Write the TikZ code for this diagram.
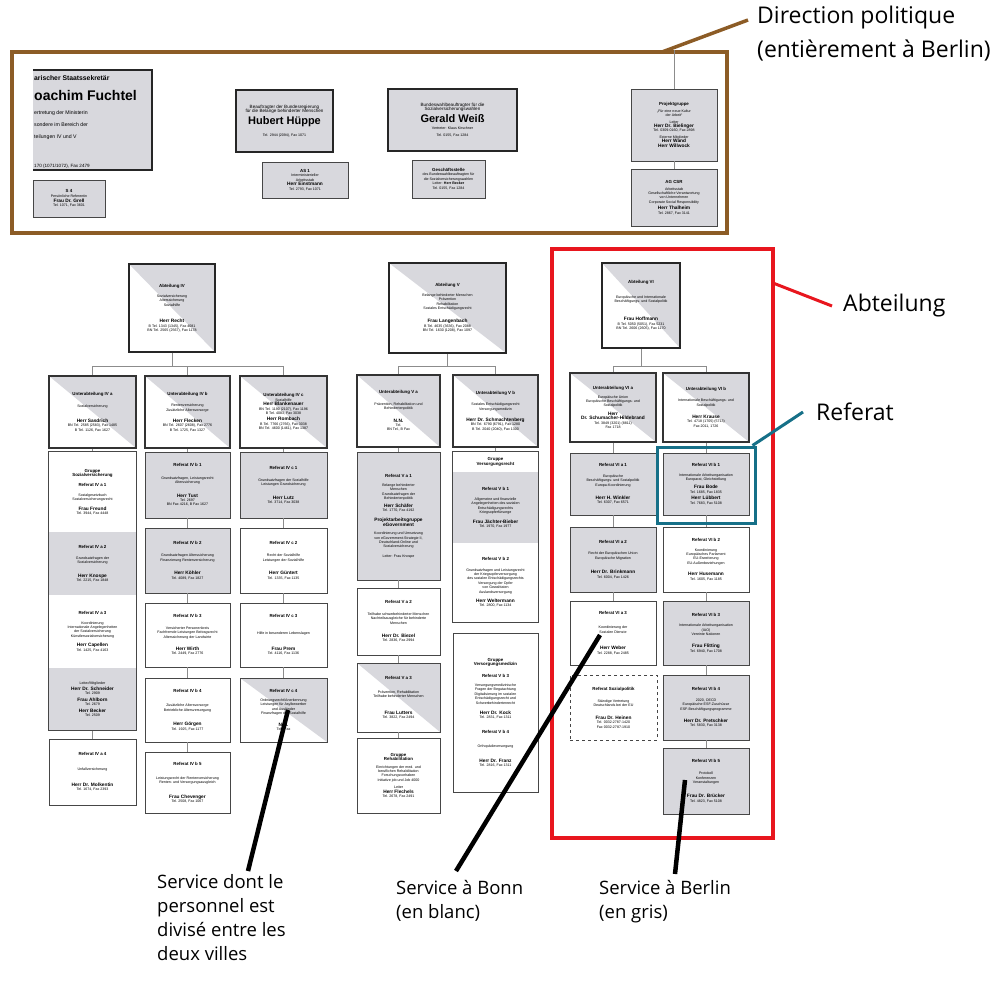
\documentclass[tikz,border=0pt]{standalone}
\usepackage{fontspec}
\setmainfont{Liberation Sans}
\newfontfamily\notefont{Open Sans}
\usetikzlibrary{fit}

\definecolor{framebrown}{RGB}{140,92,38}
\definecolor{framered}{RGB}{232,22,30}
\definecolor{frameteal}{RGB}{22,112,136}
\definecolor{boxgray}{RGB}{216,216,221}
\definecolor{boxline}{RGB}{70,70,70}

\tikzset{
  org/.style={draw=boxline, line width=0.8pt, fill=white, align=center, inner sep=1pt,
    font=\fontsize{3.6}{4.4}\selectfont},
  grey/.style={fill=boxgray},
  split/.style={path picture={\fill[boxgray] (path picture bounding box.north west)
    -- (path picture bounding box.north east) -- (path picture bounding box.south east) -- cycle;}},
  heavy/.style={draw=black!85, line width=1.8pt},
  sub/.style={draw=black!80, line width=1.3pt},
  sect/.style={draw=none},
  link/.style={draw=black!45, line width=0.6pt},
  pointer/.style={line width=4.5pt},
  note/.style={font=\notefont\fontsize{18.5}{24}\selectfont, align=left, inner sep=0pt}
}

% box from (x1,y1) to (x2,y2), y counted downwards
\newcommand\obox[7][]{\node[org,#1,minimum width={#5-#3},minimum height={#6-#4}] (#2)
  at ({(#3+#5)/2},{(#4+#6)/2}) {#7};}
\newcommand\hd[1]{{\fontsize{4.4}{5}\selectfont\bfseries #1}}
\newcommand\nm[1]{{\fontsize{4.8}{5.4}\selectfont\bfseries #1}}

\begin{document}
\begin{tikzpicture}[x=1pt,y=-1pt]
\useasboundingbox (0,0) rectangle (996,988);

% frames
\node[draw=framebrown, line width=4pt, minimum width=715, minimum height=181, inner sep=0pt] (polframe) at (369.5,142.5) {};
\node[draw=framered, line width=3.5pt, minimum width=221, minimum height=589, inner sep=0pt] (abtframe) at (662.5,543.5) {};

% Leitung
\node[fill=boxgray, minimum width=119, minimum height=100, inner sep=0pt] (pst) at (92.5,120) {};
\draw[heavy] (pst.north west) -- (pst.north east) -- (pst.south east) -- (pst.south west);
\node[anchor=north west, align=left, inner sep=0pt] (psttxt) at (34,75)
  {{\fontsize{6.8}{7}\selectfont\bfseries arischer Staatssekretär}\\[8pt]
   {\fontsize{14}{14}\selectfont\bfseries oachim Fuchtel}\\[2pt]
   {\fontsize{5.2}{6.6}\selectfont ertretung der Ministerin}\\
   {\fontsize{5.2}{6.6}\selectfont sondere im Bereich der}\\
   {\fontsize{5.2}{6.6}\selectfont teilungen IV und V}\\[17pt]
   {\fontsize{4.6}{5}\selectfont 170 (1071/1072), Fax 2479}};
\obox[grey]{s4}{33}{180}{105}{217}{\hd{S 4}\\ Persönliche Referentin\\[1pt] \nm{Frau Dr. Grell}\\ Tel. 1071, Fax 3601}
\obox[heavy,grey]{hueppe}{236}{90}{333}{152}{{\fontsize{4.6}{5.4}\selectfont Beauftragter der Bundesregierung}\\
  {\fontsize{4.6}{5.4}\selectfont für die Belange behinderter Menschen}\\[2pt]
  {\fontsize{11}{12}\selectfont\bfseries Hubert Hüppe}\\[6pt] Tel. 2944 (2094), Fax 1071}
\obox[grey]{as1}{262}{162}{348}{198}{\hd{AS 1}\\ Interministerieller\\ Arbeitsstab\\ \nm{Herr Einstmann}\\ Tel. 2793, Fax 1071}
\obox[heavy,grey]{weiss}{388}{89}{517}{151}{{\fontsize{4.6}{5.4}\selectfont Bundeswahlbeauftragter für die}\\
  {\fontsize{4.6}{5.4}\selectfont Sozialversicherungswahlen}\\[2pt]
  {\fontsize{11}{12}\selectfont\bfseries Gerald Weiß}\\[2pt] Vertreter: Klaus Kirschner\\[3pt] Tel. 0155, Fax 1284}
\obox[grey]{gst}{412}{160}{485}{198}{\hd{Geschäftsstelle}\\ des Bundeswahlbeauftragten für\\ die Sozialversicherungswahlen\\ Leiter: \textbf{Herr Becker}\\ Tel. 0155, Fax 1284}
\obox[grey]{projgr}{631}{89}{717}{161}{\hd{Projektgruppe}\\[2pt] „Für eine neue Kultur\\ der Arbeit“\\[2pt] Leiter\\ \nm{Herr Dr. Bielinger}\\ Tel. 0309-0160, Fax 2898\\[2pt] Externe Mitglieder\\ \nm{Herr Wand}\\ \nm{Herr Willwock}}
\obox[grey]{agcsr}{631}{169}{717}{226}{\hd{AG CSR}\\[2pt] Arbeitsstab\\ Gesellschaftliche Verantwortung\\ von Unternehmen\\ Corporate Social Responsibility\\[2pt] \nm{Herr Thalheim}\\ Tel. 2867, Fax 3141}
\draw[link] (projgr.north) -- (projgr.north |- polframe.north);
\draw[link] (projgr) -- (agcsr);

% Abteilung IV
\obox[heavy,split]{abt4}{129}{264}{215}{352}{\hd{Abteilung IV}\\[6pt] Sozialversicherung\\ Alterssicherung\\ Sozialhilfe\\[12pt] \nm{Herr Recht}\\ B Tel. 1343 (1345), Fax 4081\\ BN Tel. 2565 (2567), Fax 1178}
\obox[sub,split]{uaIVa}{49}{376}{136}{448}{\hd{Unterabteilung IV a}\\[8pt] Sozialversicherung\\[10pt] \nm{Herr Sasdrich}\\ BN Tel. 2585 (2583), Fax 1485\\ B Tel. 1126, Fax 1627}
\obox[sub,split]{uaIVb}{145}{376}{230}{448}{\hd{Unterabteilung IV b}\\[7pt] Rentenversicherung\\ Zusätzliche Altersvorsorge\\[7pt] \nm{Herr Flecken}\\ BN Tel. 2607 (2608), Fax 2776\\ B Tel. 1725, Fax 1327}
\obox[sub,split]{uaIVc}{240}{376}{327}{448}{\hd{Unterabteilung IV c}\\ Sozialhilfe\\ \nm{Herr Blankenauer}\\ BN Tel. 1190 (2107), Fax 1196\\ B Tel. 4083, Fax 3038\\[2pt] \nm{Herr Rombach}\\ B Tel. 7766 (2766), Fax 3038\\ BN Tel. 4600 (1461), Fax 1387}

\obox[sect]{gIVa1}{49}{452}{136}{532}{\hd{Gruppe}\\ \hd{Sozialversicherung}\\[6pt] \hd{Referat IV a 1}\\[5pt] Sozialgesetzbuch\\ Sozialversicherungsrecht\\[5pt] \nm{Frau Freund}\\ Tel. 3944, Fax 4448}
\obox[sect,grey]{gIVa2}{49}{532}{136}{595}{\hd{Referat IV a 2}\\[7pt] Grundsatzfragen der\\ Sozialversicherung\\[9pt] \nm{Herr Knospe}\\ Tel. 2215, Fax 1848}
\obox[sect]{gIVa3}{49}{595}{136}{668}{\hd{Referat IV a 3}\\[5pt] Koordinierung\\ Internationale Angelegenheiten\\ der Sozialversicherung\\ Künstlersozialversicherung\\[5pt] \nm{Herr Capellen}\\ Tel. 1425, Fax 4163}
\obox[sect,grey]{gIVa4}{49}{668}{136}{730}{Leiter/Mitglieder\\[2pt] \nm{Herr Dr. Schneider}\\ Tel. 2909\\[2pt] \nm{Frau Ahlborn}\\ Tel. 2679\\[2pt] \nm{Herr Becker}\\ Tel. 2509}
\node[org, fill=none, fit=(gIVa1)(gIVa4), inner sep=0pt] (grIVa) {};
\obox{r4a4}{49}{739}{136}{805}{\hd{Referat IV a 4}\\[10pt] Unfallversicherung\\[12pt] \nm{Herr Dr. Molkentin}\\ Tel. 1674, Fax 2393}

\obox[grey]{r4b1}{145}{452}{230}{518}{\hd{Referat IV b 1}\\[8pt] Grundsatzfragen, Leistungsrecht\\ Alterssicherung\\[9pt] \nm{Herr Tust}\\ Tel. 2697\\ BN Fax 4216, B Fax 1627}
\obox[grey]{r4b2}{145}{528}{230}{593}{\hd{Referat IV b 2}\\[8pt] Grundsatzfragen Alterssicherung\\ Finanzierung Rentenversicherung\\[9pt] \nm{Herr Köhler}\\ Tel. 4089, Fax 1827}
\obox{r4b3}{145}{603}{230}{667}{\hd{Referat IV b 3}\\[7pt] Versicherter Personenkreis\\ Fachfremde Leistungen Beitragsrecht\\ Alterssicherung der Landwirte\\[8pt] \nm{Herr Wirth}\\ Tel. 2449, Fax 2776}
\obox{r4b4}{145}{678}{230}{742}{\hd{Referat IV b 4}\\[10pt] Zusätzliche Altersvorsorge\\ Betriebliche Altersversorgung\\[10pt] \nm{Herr Görgen}\\ Tel. 1925, Fax 1177}
\obox{r4b5}{145}{752}{230}{813}{\hd{Referat IV b 5}\\[10pt] Leistungsrecht der Rentenversicherung\\ Renten- und Versorgungsausgleich\\[10pt] \nm{Frau Chevenger}\\ Tel. 2508, Fax 1067}

\obox[grey]{r4c1}{240}{452}{327}{518}{\hd{Referat IV c 1}\\[8pt] Grundsatzfragen der Sozialhilfe\\ Leistungen Grundsicherung\\[9pt] \nm{Herr Lutz}\\ Tel. 3714, Fax 3038}
\obox{r4c2}{240}{528}{327}{593}{\hd{Referat IV c 2}\\[8pt] Recht der Sozialhilfe\\ Leistungen der Sozialhilfe\\[9pt] \nm{Herr Güntert}\\ Tel. 1335, Fax 1135}
\obox{r4c3}{240}{603}{327}{667}{\hd{Referat IV c 3}\\[12pt] Hilfe in besonderen Lebenslagen\\[12pt] \nm{Frau Prem}\\ Tel. 4116, Fax 1136}
\obox[split]{r4c4}{240}{678}{327}{742}{\hd{Referat IV c 4}\\[5pt] Ordnungsrecht/Anerkennung\\ Leistungen für Asylbewerber\\ und Ausländer\\ Finanzfragen der Sozialhilfe\\[7pt] \nm{N.N.}\\ Tel., Fax}

\draw[link] (abt4.south) -- ++(0,13) -| (uaIVa.north);
\draw[link] (abt4.south) -- ++(0,13) -| (uaIVb.north);
\draw[link] (abt4.south) -- ++(0,13) -| (uaIVc.north);
\draw[link] (uaIVa) -- (grIVa);
\draw[link] (grIVa) -- (r4a4);
\draw[link] (uaIVb) -- (r4b1);
\draw[link] (r4b1) -- (r4b2);
\draw[link] (r4b2) -- (r4b3);
\draw[link] (r4b3) -- (r4b4);
\draw[link] (r4b4) -- (r4b5);
\draw[link] (uaIVc) -- (r4c1);
\draw[link] (r4c1) -- (r4c2);
\draw[link] (r4c2) -- (r4c3);
\draw[link] (r4c3) -- (r4c4);

% Abteilung V
\obox[heavy,split]{abt5}{389}{263}{506}{353}{\hd{Abteilung V}\\[5pt] Belange behinderter Menschen\\ Prävention\\ Rehabilitation\\ Soziales Entschädigungsrecht\\[9pt] \nm{Frau Langenbach}\\ B Tel. 4635 (3636), Fax 2088\\ BN Tel. 1630 (1208), Fax 1097}
\obox[sub,split]{uaVa}{357}{375}{440}{447}{\hd{Unterabteilung V a}\\[7pt] Prävention, Rehabilitation und\\ Behindertenpolitik\\[8pt] \nm{N.N.}\\ Tel.\\ BN Tel., B Fax}
\obox[sub,split]{uaVb}{453}{375}{538}{447}{\hd{Unterabteilung V b}\\[7pt] Soziales Entschädigungsrecht\\ Versorgungsmedizin\\[7pt] \nm{Herr Dr. Schmachtenberg}\\ BN Tel. 6790 (6791), Fax 1280\\ B Tel. 2040 (2040), Fax 1300}

\obox[grey]{r5a1}{357}{452}{440}{580}{\hd{Referat V a 1}\\[5pt] Belange behinderter\\ Menschen\\ Grundsatzfragen der\\ Behindertenpolitik\\[3pt] \nm{Herr Schäfer}\\ Tel. 1770, Fax 4192\\[6pt] \nm{Projektarbeitsgruppe}\\ \nm{eGovernment}\\[4pt] Koordinierung und Umsetzung\\ von eGovernment-Strategie II,\\ Deutschland-Online und\\ Sozialversicherung\\[5pt] Leiter: Frau Knospe}
\obox{r5a2}{357}{588}{440}{655}{\hd{Referat V a 2}\\[7pt] Teilhabe schwerbehinderter Menschen\\ Nachteilsausgleiche für behinderte\\ Menschen\\[9pt] \nm{Herr Dr. Biezel}\\ Tel. 2836, Fax 2994}
\obox[split]{r5a3}{357}{663}{440}{732}{\hd{Referat V a 3}\\[10pt] Prävention, Rehabilitation\\ Teilhabe behinderter Menschen\\[12pt] \nm{Frau Lutters}\\ Tel. 3822, Fax 2494}
\obox{grReha}{357}{738}{440}{813}{\hd{Gruppe}\\ \hd{Rehabilitation}\\[3pt] Einrichtungen der med. und\\ beruflichen Rehabilitation\\ Forschungsvorhaben\\ Initiative job und Job 4000\\[3pt] Leiter\\ \nm{Herr Flechels}\\ Tel. 2678, Fax 2491}

\obox[sect]{gVr1}{453}{452}{538}{472}{\hd{Gruppe}\\ \hd{Versorgungsrecht}}
\obox[sect,grey]{gVr2}{453}{472}{538}{543}{\hd{Referat V b 1}\\[6pt] Allgemeine und finanzielle\\ Angelegenheiten des sozialen\\ Entschädigungsrechts\\ Kriegsopferfürsorge\\[5pt] \nm{Frau Jächter-Bieber}\\ Tel. 1970, Fax 1977}
\obox[sect]{gVr3}{453}{543}{538}{622}{\hd{Referat V b 2}\\[6pt] Grundsatzfragen und Leistungsrecht\\ der Kriegsopferversorgung\\ des sozialen Entschädigungsrechts\\ Versorgung der Opfer\\ von Gewalttaten\\ Auslandsversorgung\\[5pt] \nm{Herr Weltermann}\\ Tel. 2800, Fax 1134}
\node[org, fill=none, fit=(gVr1)(gVr3), inner sep=0pt] (grVr) {};
\obox{grVm}{453}{633}{538}{792}{\hd{Gruppe}\\ \hd{Versorgungsmedizin}\\[7pt] \hd{Referat V b 3}\\[5pt] Versorgungsmedizinische\\ Fragen der Begutachtung\\ Digitalisierung im sozialen\\ Entschädigungsrecht und\\ Schwerbehindertenrecht\\[6pt] \nm{Herr Dr. Kock}\\ Tel. 2831, Fax 1311\\[10pt] \hd{Referat V b 4}\\[10pt] Orthopädieversorgung\\[10pt] \nm{Herr Dr. Franz}\\ Tel. 2816, Fax 1311}

\draw[link] (abt5.south) -- ++(0,12) -| (uaVa.north);
\draw[link] (abt5.south) -- ++(0,12) -| (uaVb.north);
\draw[link] (uaVa) -- (r5a1);
\draw[link] (r5a1) -- (r5a2);
\draw[link] (r5a2) -- (r5a3);
\draw[link] (r5a3) -- (grReha);
\draw[link] (uaVb) -- (grVr);

% Abteilung VI
\obox[heavy,split]{abt6}{602}{263}{680}{348}{\hd{Abteilung VI}\\[10pt] Europäische und Internationale\\ Beschäftigungs- und Sozialpolitik\\[14pt] \nm{Frau Hoffmann}\\ B Tel. 5050 (5051), Fax 5231\\ BN Tel. 2606 (2605), Fax 1170}
\obox[sub,split]{uaVIa}{570}{373}{656}{442}{\hd{Unterabteilung VI a}\\[4pt] Europäische Union\\ Europäische Beschäftigungs- und\\ Sozialpolitik\\[4pt] \nm{Herr}\\ \nm{Dr. Schumacher-Hildebrand}\\ Tel. 3849 (3201) (8811)\\ Fax 1718}
\obox[sub,split]{uaVIb}{663}{373}{749}{442}{\hd{Unterabteilung VI b}\\[7pt] Internationale Beschäftigungs- und\\ Sozialpolitik\\[8pt] \nm{Herr Krause}\\ Tel. 4718 (1705) (5713)\\ Fax 2011, 1726}

\obox[grey]{r6a1}{570}{453}{656}{515}{\hd{Referat VI a 1}\\[6pt] Europäische\\ Beschäftigungs- und Sozialpolitik\\ Europa-Koordinierung\\[9pt] \nm{Herr H. Winkler}\\ Tel. 6307, Fax 6571}
\obox[grey]{r6a2}{570}{527}{656}{592}{\hd{Referat VI a 2}\\[7pt] Recht der Europäischen Union\\ Europäische Migration\\[10pt] \nm{Herr Dr. Brinkmann}\\ Tel. 6004, Fax 1426}
\obox{r6a3}{570}{601}{656}{665}{\hd{Referat VI a 3}\\[10pt] Koordinierung der\\ Sozialen Dienste\\[12pt] \nm{Herr Weber}\\ Tel. 2288, Fax 2485}
\obox[dashed]{sozpol}{570}{675}{657}{740}{\hd{Referat Sozialpolitik}\\[8pt] Ständige Vertretung\\ Deutschlands bei der EU\\[8pt] \nm{Frau Dr. Heinen}\\ Tel. 0032-2787-1420\\ Fax 0032-2787-1910}

\obox[grey]{r6b1}{663}{453}{749}{515}{\hd{Referat VI b 1}\\[5pt] Internationale Arbeitsorganisation\\ Europarat, Gleichstellung\\[4pt] \nm{Frau Bode}\\ Tel. 1685, Fax 1835\\[2pt] \nm{Herr Lübbert}\\ Tel. 7683, Fax 5108}
\obox{r6b2}{663}{527}{749}{592}{\hd{Referat VI b 2}\\[5pt] Koordinierung\\ Europäisches Parlament\\ EU-Erweiterung\\ EU-Außenbeziehungen\\[7pt] \nm{Herr Husemann}\\ Tel. 1605, Fax 1185}
\obox[grey]{r6b3}{663}{601}{749}{665}{\hd{Referat VI b 3}\\[6pt] Internationale Arbeitsorganisation\\ (IAO)\\ Vereinte Nationen\\[8pt] \nm{Frau Flitting}\\ Tel. 6940, Fax 1708}
\obox[grey]{r6b4}{663}{675}{749}{740}{\hd{Referat VI b 4}\\[6pt] 2020, OECD\\ Europäische ESF-Zuschüsse\\ ESF-Beschäftigungsprogramme\\[8pt] \nm{Herr Dr. Pretschker}\\ Tel. 5830, Fax 3138}
\obox[grey]{r6b5}{663}{748}{749}{814}{\hd{Referat VI b 5}\\[8pt] Protokoll\\ Konferenzen\\ Veranstaltungen\\[10pt] \nm{Frau Dr. Brücker}\\ Tel. 4823, Fax 5108}

\draw[link] (abt6.south) -- ++(0,17) -| (uaVIa.north);
\draw[link] (abt6.south) -- ++(0,17) -| (uaVIb.north);
\draw[link] (uaVIa) -- (r6a1);
\draw[link] (r6a1) -- (r6a2);
\draw[link] (r6a2) -- (r6a3);
\draw[link] (uaVIb) -- (r6b1);
\draw[link] (r6b1) -- (r6b2);
\draw[link] (r6b2) -- (r6b3);
\draw[link] (r6b3) -- (r6b4);
\draw[link] (r6b4) -- (r6b5);

\node[draw=frameteal, line width=3pt, minimum width=98, minimum height=76, inner sep=0pt] (refframe) at (706,485) {};

% annotations
\node[note, font=\notefont\fontsize{23}{34}\selectfont, anchor=north west] (dirlbl) at (757,6) {Direction politique\\(entièrement à Berlin)};
\node[note, font=\notefont\fontsize{23}{25}\selectfont, anchor=west] (abtlbl) at (843,306) {Abteilung};
\node[note, font=\notefont\fontsize{23}{25}\selectfont, anchor=west] (reflbl) at (816,412) {Referat};
\node[note, anchor=north west] (lblsplit) at (157,874) {Service dont le\\personnel est\\divisé entre les\\deux villes};
\node[note, anchor=north west] (lblbonn) at (396,880) {Service à Bonn\\(en blanc)};
\node[note, anchor=north west] (lblberlin) at (599,880) {Service à Berlin\\(en gris)};

\coordinate (polhook) at (662,52);
\coordinate (abthook) at (773,283);
\draw[framebrown, line width=3.5pt] (polhook) -- ([xshift=-9pt,yshift=-14pt]dirlbl.north west);
\draw[framered, line width=3pt] (abthook) -- ([xshift=-11pt]abtlbl.west);
\draw[frameteal, line width=3pt] ([xshift=-4pt]refframe.north east) -- ([xshift=-13pt]reflbl.west);

\coordinate (tipSplit) at (288,710);
\coordinate (tipBonn) at (600,635);
\coordinate (tipBerlin) at (685,780);
\draw[pointer] (tipSplit) -- ([xshift=91pt,yshift=3pt]lblsplit.north west);
\draw[pointer] (tipBonn) -- ([xshift=60pt,yshift=9pt]lblbonn.north west);
\draw[pointer] (tipBerlin) -- ([xshift=76pt,yshift=6pt]lblberlin.north west);
\end{tikzpicture}
\end{document}
